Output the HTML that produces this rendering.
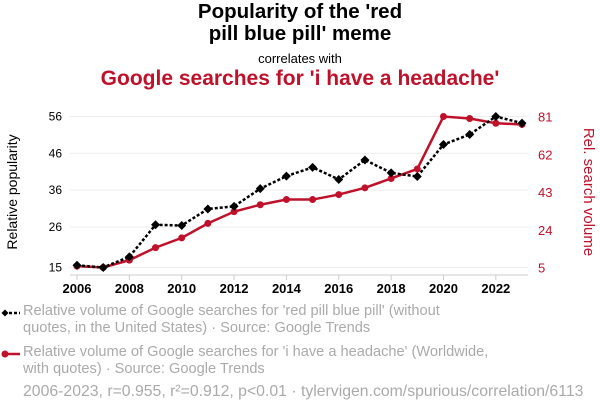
<!DOCTYPE html>
<html><head><meta charset="utf-8"><style>
body{margin:0;width:600px;height:414px;background:#fff;font-family:"Liberation Sans",sans-serif;overflow:hidden;position:relative}
.t{position:absolute;white-space:nowrap}
</style></head><body>
<div class="t" style="left:0;width:600px;top:1px;text-align:center;font-weight:bold;font-size:20.5px;line-height:22px;color:#000">Popularity of the 'red<br>pill blue pill' meme</div>
<div class="t" style="left:0;width:600px;top:51px;text-align:center;font-size:13px;color:#000">correlates with</div>
<div class="t" style="left:0;width:600px;top:67px;text-align:center;font-weight:bold;font-size:21px;color:#c0112b">Google searches for 'i have a headache'</div>
<svg id="chart" width="600" height="414" style="position:absolute;left:0;top:0"></svg>
<div class="t" style="left:23px;top:303px;font-size:14.6px;line-height:17px;color:#aaa">Relative volume of Google searches for 'red pill blue pill' (without<br>quotes, in the United States) · Source: Google Trends</div>
<div class="t" style="left:23px;top:344px;font-size:14.6px;line-height:17px;color:#aaa">Relative volume of Google searches for 'i have a headache' (Worldwide,<br>with quotes) · Source: Google Trends</div>
<div class="t" style="left:23px;top:383px;font-size:15.8px;color:#aaa">2006-2023, r=0.955, r²=0.912, p&lt;0.01 · tylervigen.com/spurious/correlation/6113</div>
<script>
const years=[2006,2007,2008,2009,2010,2011,2012,2013,2014,2015,2016,2017,2018,2019,2020,2021,2022,2023];
const pillValues=[15.6,15,17.9,26.6,26.4,30.9,31.6,36.4,39.8,42.2,38.9,44.2,40.7,39.7,48.4,51.1,56,54.2];
const headacheValues=[5.7,5,8.7,15,19.9,27.2,33.1,36.6,39.2,39.2,41.7,45.1,49.8,54.6,81,80,77.6,77];
const leftTicks=[15,26,36,46,56];
const rightTicks=[5,24,43,62,81];
const xTicks=[2006,2008,2010,2012,2014,2016,2018,2020,2022];
const svg=document.getElementById('chart');const NS='http://www.w3.org/2000/svg';
const X0=77,X1=522,Y0=267.5,Y1=116.5;
const x=v=>X0+(v-2006)/(2023-2006)*(X1-X0);
const yL=v=>Y0-(v-15)/(56-15)*(Y0-Y1);
const yR=v=>Y0-(v-5)/(81-5)*(Y0-Y1);
function mk(tag,attrs,txt){const e=document.createElementNS(NS,tag);for(const k in attrs)e.setAttribute(k,attrs[k]);if(txt!=null)e.textContent=txt;svg.appendChild(e);return e;}
leftTicks.forEach((t,i)=>{
 const g=mk('line',{x1:70,x2:528,y1:yL(t),y2:yL(t),stroke:'#eee','stroke-width':1});
 
 
 const a=mk('text',{x:62,y:yL(t)+4,'text-anchor':'end','font-size':12,fill:'#000','font-family':'Liberation Sans'},t);
 
 
 const b=mk('text',{x:538,y:yR(rightTicks[i])+5,'font-size':13,fill:'#c0112b','font-family':'Liberation Sans'},rightTicks[i]);
 
 
});
const ax=mk('line',{x1:70,x2:528,y1:275,y2:275,stroke:'#ccc','stroke-width':1});


xTicks.forEach(t=>{
 const tk=mk('line',{x1:x(t),x2:x(t),y1:275,y2:280,stroke:'#ccc'});
 
 
 const l=mk('text',{x:x(t),y:293,'text-anchor':'middle','font-size':13,'font-weight':'bold',fill:'#000','font-family':'Liberation Sans'},t);
 
 
});
const yl=mk('text',{x:0,y:0,transform:'translate(17,192) rotate(-90)','text-anchor':'middle','font-size':14,fill:'#000','font-family':'Liberation Sans'},'Relative popularity');


const yr=mk('text',{x:0,y:0,transform:'translate(584,192) rotate(90)','text-anchor':'middle','font-size':15,fill:'#c0112b','font-family':'Liberation Sans'},'Rel. search volume');


const rl=mk('polyline',{points:years.map((yv,i)=>x(yv)+','+yR(headacheValues[i])).join(' '),fill:'none',stroke:'#c0112b','stroke-width':2.5});


years.forEach((yv,i)=>{const c=mk('circle',{cx:x(yv),cy:yR(headacheValues[i]),r:3.5,fill:'#c0112b'});
 
 });
const bl=mk('polyline',{points:years.map((yv,i)=>x(yv)+','+yL(pillValues[i])).join(' '),fill:'none',stroke:'#000','stroke-width':2.5,'stroke-dasharray':'3,2'});


years.forEach((yv,i)=>{const cx=x(yv),cy=yL(pillValues[i]);const d=mk('polygon',{points:`${cx},${cy-4.5} ${cx+4.5},${cy} ${cx},${cy+4.5} ${cx-4.5},${cy}`,fill:'#000'});
 
 });
const k1=mk('line',{x1:4,x2:20,y1:313,y2:313,stroke:'#000','stroke-width':2.5,'stroke-dasharray':'3,2'});


const k1d=mk('polygon',{points:'5,309.5 8.5,313 5,316.5 1.5,313',fill:'#000'});


const k2=mk('line',{x1:4,x2:20,y1:354,y2:354,stroke:'#c0112b','stroke-width':2.5});


const k2c=mk('circle',{cx:5,cy:354,r:3.5,fill:'#c0112b'});


</script>
</body></html>
